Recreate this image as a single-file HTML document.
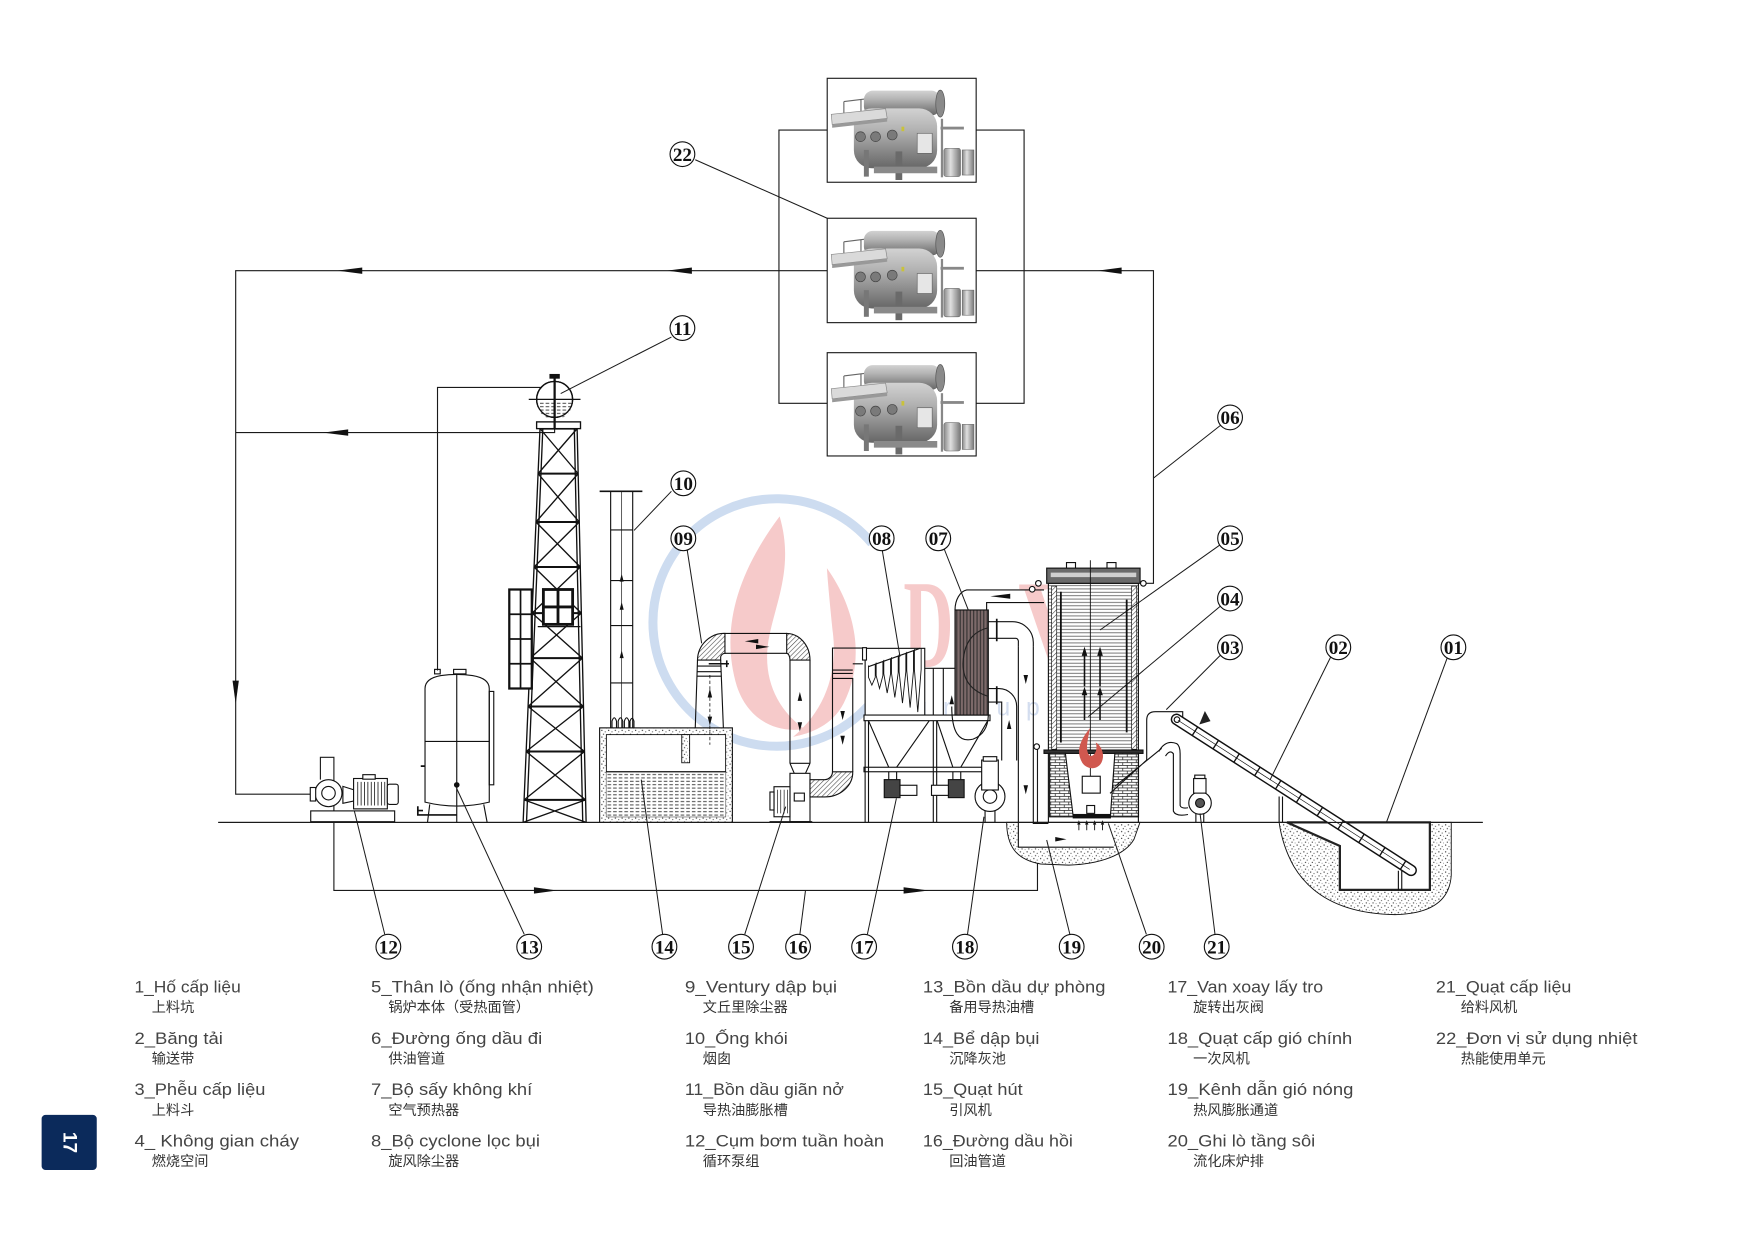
<!DOCTYPE html>
<html><head><meta charset="utf-8">
<style>
html,body{margin:0;padding:0;background:#fff;}
svg{display:block;}
.v{font-family:"Liberation Sans","Noto Sans CJK SC",sans-serif;font-size:14.5px;fill:#444;}
.c{font-family:"Liberation Sans","Noto Sans CJK SC","WenQuanYi Zen Hei",sans-serif;font-size:12.6px;fill:#333;}
.n{font-family:"Liberation Serif",serif;font-weight:bold;font-size:17px;fill:#111;text-anchor:middle;}
</style></head><body>
<svg width="1755" height="1241" viewBox="0 0 1560 1103.11" xmlns="http://www.w3.org/2000/svg">
<defs>
<pattern id="hl" width="10" height="3" patternUnits="userSpaceOnUse"><rect width="10" height="3" fill="#fff"/><line x1="0" y1="1.5" x2="10" y2="1.5" stroke="#555" stroke-width="0.7"/></pattern>
<pattern id="vl" width="3" height="10" patternUnits="userSpaceOnUse"><rect width="3" height="10" fill="#7d6a6a"/><line x1="1.5" y1="0" x2="1.5" y2="10" stroke="#2a2a2a" stroke-width="0.9"/></pattern>
<pattern id="sp" width="6" height="6" patternUnits="userSpaceOnUse"><rect width="6" height="6" fill="#fff"/><circle cx="1" cy="1.2" r=".6" fill="#333"/><circle cx="4" cy="2.5" r=".5" fill="#444"/><circle cx="2.5" cy="4.6" r=".55" fill="#333"/><circle cx="5.2" cy="5.3" r=".4" fill="#555"/></pattern>
<pattern id="wt" width="5" height="3" patternUnits="userSpaceOnUse"><rect width="5" height="3" fill="#fff"/><line x1="0" y1="1.5" x2="3.2" y2="1.5" stroke="#333" stroke-width="0.8"/></pattern>
<pattern id="hx" width="3" height="3" patternUnits="userSpaceOnUse" patternTransform="rotate(45)"><rect width="3" height="3" fill="#fff"/><line x1="0" y1="0" x2="0" y2="3" stroke="#444" stroke-width="1"/></pattern>
<pattern id="br" width="8" height="5" patternUnits="userSpaceOnUse"><rect width="8" height="5" fill="#fff"/><path d="M0,.4H8M0,2.9H8M2,.4V2.9M6,2.9V5" stroke="#333" stroke-width=".7"/></pattern>
<linearGradient id="gd" x1="0" y1="0" x2="0" y2="1"><stop offset="0" stop-color="#d2d2d2"/><stop offset=".35" stop-color="#b3b3b3"/><stop offset="1" stop-color="#666"/></linearGradient>
<linearGradient id="gh" x1="0" y1="0" x2="1" y2="0"><stop offset="0" stop-color="#888"/><stop offset=".4" stop-color="#e0e0e0"/><stop offset="1" stop-color="#777"/></linearGradient>
<g id="m">
<path d="M14.8,20.7 L50.4,16.3 M14.8,20.7 V33 M30,18.8 V31 M50.4,16.3 V29" stroke="#666" stroke-width="1" fill="none"/>
<rect x="32.6" y="11" width="68" height="22" rx="8" fill="url(#gd)"/>
<ellipse cx="100.5" cy="22.5" rx="4" ry="12" fill="#8a8a8a" stroke="#555" stroke-width=".6"/>
<rect x="23.7" y="26.7" width="74" height="53.3" rx="16" fill="url(#gd)"/>
<polygon points="3.6,32 51.9,27 53.3,35.6 4.4,41" fill="#dadada" stroke="#888" stroke-width=".6"/>
<polygon points="4.4,41 53.3,35.6 53.3,38.5 4.4,44" fill="#999"/>
<circle cx="29.6" cy="51.9" r="4.4" fill="#7a7a7a" stroke="#444" stroke-width=".6"/>
<circle cx="43" cy="51.9" r="4.4" fill="#7a7a7a" stroke="#444" stroke-width=".6"/>
<circle cx="57.8" cy="50.4" r="4.4" fill="#7a7a7a" stroke="#444" stroke-width=".6"/>
<rect x="80" y="48.9" width="13.3" height="17.8" fill="#e6e6e6" stroke="#666" stroke-width=".6"/>
<rect x="32.6" y="63.7" width="4.4" height="23.7" fill="#777"/>
<rect x="60.7" y="65" width="6" height="25.4" fill="#6a6a6a"/>
<rect x="41.5" y="78.5" width="56.3" height="5.9" fill="#8a8a8a"/>
<rect x="100.7" y="43" width="20.8" height="2.5" fill="#888"/>
<rect x="101" y="36" width="2" height="52" fill="#888"/>
<rect x="103.7" y="62.2" width="14.8" height="25.2" rx="2" fill="url(#gh)" stroke="#666" stroke-width=".5"/>
<rect x="120" y="63.7" width="10.4" height="22.3" fill="url(#gh)" stroke="#666" stroke-width=".5"/>
<rect x="66" y="43" width="2.5" height="4" fill="#c9c23a"/>
</g>
</defs>

<!-- watermark -->
<g>
<path d="M775,483 A110,110 0 1 0 790,600" fill="none" stroke="#cddcf0" stroke-width="8"/>
<path d="M693,459 C655,510 640,560 655,610 C665,640 690,652 715,648 C690,630 675,600 685,560 C692,530 705,500 693,459 Z" fill="#f6caca"/>
<path d="M735,505 C760,540 770,585 750,625 C740,645 720,652 705,655 C735,630 745,595 740,560 C738,540 736,520 735,505 Z" fill="#f6caca"/>
<text transform="translate(803,593) scale(0.55,1)" font-family="Liberation Serif" font-weight="bold" font-size="112" fill="#f6caca">D</text>
<text transform="translate(905,593) scale(0.8,1)" font-family="Liberation Serif" font-weight="bold" font-size="112" fill="#f6caca">V</text>
<text x="812" y="636" font-family="Liberation Sans" font-size="22" fill="#d3ddef" letter-spacing="14">group</text>
</g>

<g fill="none" stroke="#1a1a1a" stroke-width="1">
<!-- top machines -->
<rect x="735.3" y="69.6" width="132.4" height="92.4" fill="#fff"/>
<rect x="735.3" y="194" width="132.4" height="92.8" fill="#fff"/>
<rect x="735.3" y="313.5" width="132.4" height="91.8" fill="#fff"/>
</g>
<use href="#m" x="735.3" y="69.6"/>
<use href="#m" x="735.3" y="194.2"/>
<use href="#m" x="735.3" y="313.5"/>

<g fill="none" stroke="#1a1a1a" stroke-width="1">
<path d="M735.3,115.6H692.4V358.5H735.3 M867.7,115.6H910.3V358.5H867.7"/>
<path d="M735.3,240.6H209.5V705.9H276"/>
<path d="M867.7,240.6H1025.3V518.5H1016.3"/>
<path d="M493,371V384.5H209.5"/>
<path d="M481,344.4H388.9V596"/>
<path d="M284.8,693V673.2H296.8V791.5H922.2V663.7"/>
<path d="M194,731H1318"/>
</g>
<g fill="#111">
<polygon points="300,240.6 322,237.8 322,243.4"/>
<polygon points="593,240.6 615,237.8 615,243.4"/>
<polygon points="976,240.6 997,237.8 997,243.4"/>
<polygon points="287.3,384.5 309.5,381.7 309.5,387.3"/>
<polygon points="209.5,625.8 206.7,605 212.3,605"/>
<polygon points="495,791.5 474.6,788.7 474.6,794.3"/>
<polygon points="825.4,791.5 803.2,788.7 803.2,794.3"/>
</g>

<!-- tower -->
<g stroke="#111" fill="none" stroke-width="1.2">
<path d="M465,731 L480,381 M468,731 L482.5,381 M521,731 L513,381 M518,731 L510.5,381"/>
<path stroke-width="1.8" d="M480,381H513 M478.3,421H513.9 M476.4,464H514.9 M474.7,504H515.8 M473,545H516.7 M471.3,585H517.7 M469.4,628H518.6 M467.7,668H519.6 M465.9,711H520.5"/>
<path d="M480,381 L513.9,421 M513,381 L478.3,421 M478.3,421 L514.9,464 M513.9,421 L476.4,464 M476.4,464 L515.8,504 M514.9,464 L474.7,504 M474.7,504 L516.7,545 M515.8,504 L473,545 M473,545 L517.7,585 M516.7,545 L471.3,585 M471.3,585 L518.6,628 M517.7,585 L469.4,628 M469.4,628 L519.6,668 M518.6,628 L467.7,668 M467.7,668 L520.5,711 M519.6,668 L465.9,711 M465.9,711 L521,731 M520.5,711 L465,731"/>
<rect x="477" y="375" width="39" height="6" fill="#fff"/>
<circle cx="493" cy="355" r="16" fill="#fff"/>
<path d="M477,357 A16,16 0 0 0 509,357 Z" fill="url(#wt)" stroke="none"/>
<circle cx="493" cy="355" r="16"/>
<path d="M470,355H516"/>
<path d="M493,333V381" stroke-width="2"/>
<rect x="489" y="333" width="8" height="3" fill="#111"/>
<rect x="452.7" y="524" width="20" height="88" fill="#fff" stroke-width="2"/>
<path d="M462.7,524V612 M452.7,546H472.7 M452.7,568H472.7 M452.7,590H472.7" stroke-width="1.5"/>
<rect x="483" y="524" width="26" height="31" fill="#fff" stroke-width="2.5"/>
<path d="M496,524V555 M483,539.5H509" stroke-width="2.5"/>
<path d="M478,557H516"/>
</g>

<!-- tank 13 -->
<g stroke="#111" fill="none" stroke-width="1">
<path d="M377.8,713 V612 Q377.8,603 392,600.5 Q406,598.5 420,600.5 Q434.9,603 434.9,612 V713 Q406,720 377.8,713 Z" fill="#fff"/>
<path d="M377.8,659H434.9 M406,599V717"/>
<rect x="434.9" y="614.6" width="4" height="83"/>
<path d="M382,715 L380,731 M430,715 L433,731 M406,717V731"/>
<rect x="386.3" y="595" width="5" height="4"/>
<rect x="403.2" y="595" width="11" height="4"/>
<path d="M371.4,716.7V724.4H406 M371.4,720.5H376 M374,681H378" stroke-width="1.5"/>
<circle cx="406" cy="697.7" r="2" fill="#111"/>
</g>

<!-- pump 12 -->
<g stroke="#111" fill="#fff" stroke-width="1">
<rect x="276.2" y="720.8" width="74.6" height="9.6"/>
<circle cx="292" cy="705" r="12"/>
<circle cx="292" cy="705" r="6"/>
<rect x="275.8" y="700" width="4.8" height="12"/>
<polygon points="304.8,699 314.3,702 314.3,712 304.8,714"/>
<rect x="314.3" y="692" width="30" height="27"/>
<path d="M318,695V716 M321,695V716 M324,695V716 M327,695V716 M330,695V716 M333,695V716 M336,695V716 M339,695V716 M342,695V716" fill="none" stroke-width=".7"/>
<rect x="344.3" y="697" width="9.7" height="18" rx="2"/>
<rect x="322.5" y="688.6" width="11" height="4"/>
</g>

<!-- chimney 10 -->
<g stroke="#111" fill="none" stroke-width="1">
<path d="M542.8,436.7V647 M562.4,436.7V647"/>
<path d="M552.6,436.7V647" stroke-width=".6"/>
<path d="M533,436.7H571" stroke-width="1.5"/>
<path d="M542.8,471H562.4 M542.8,516H562.4 M542.8,556H562.4 M542.8,607H562.4"/>
<path d="M544,647V641 Q546,635 548,641V647 M549.5,647V641 Q551.5,635 553.5,641V647 M555,647V641 Q557,635 559,641V647 M560,647V641 Q562,636 563.5,641V647"/>
</g>
<g fill="#111"><polygon points="552.6,510 550.8,517 554.4,517"/><polygon points="552.6,535 550.8,542 554.4,542"/><polygon points="552.6,578 550.8,585 554.4,585"/></g>

<!-- tank 14 -->
<g stroke="#111" stroke-width="1">
<rect x="533" y="647" width="118" height="84" fill="url(#sp)"/>
<rect x="539" y="653" width="106" height="73" fill="#fff" stroke-width=".8"/>
<rect x="539" y="686" width="106" height="40" fill="url(#wt)" stroke="none"/>
<path d="M539,686H645" stroke-width="1.2"/>
<rect x="606" y="653" width="7" height="25" fill="url(#sp)" stroke-width=".8"/>
</g>

<!-- venturi 09, fan 15 -->
<g stroke="#111" fill="none" stroke-width="1">
<path d="M620,586.7 L618,647 M640.6,586.7 L643,647"/>
<path d="M620,592H641 M620,597H641 M620,601H641"/>
<path d="M630,590H648 M646,587V593" stroke-width="1.4"/>
<path d="M631,600V662" stroke-dasharray="3 2" stroke-width=".7"/>
<path d="M620,586.7 A24,24 0 0 1 644.4,563 L644.4,580.7 A4,4 0 0 0 640.6,584 L640.6,586.7 Z" fill="url(#hx)"/>
<path d="M644.4,563H699.3 M644.4,580.7H699.3"/>
<path d="M699.3,563 A21,24 0 0 1 720,586.7 L702.2,586.7 A3,6 0 0 0 699.3,580.7 Z" fill="url(#hx)"/>
<path d="M702.2,586.7V678.5 M720,586.7V678.5"/>
<path d="M702.2,678.5 L706,687.4 M720,678.5 L716,687.4 M702.2,678.5H720"/>
<rect x="702.2" y="687.4" width="17.8" height="43" fill="#fff"/>
<rect x="706" y="705" width="9" height="7"/>
<rect x="688" y="699.3" width="14.2" height="26.7" fill="#fff"/>
<path d="M691,702V723 M694,702V723 M697,702V723 M700,702V723" stroke-width=".6"/>
<rect x="684.4" y="704" width="3.6" height="16" fill="#fff"/>
<path d="M684,730.4H722"/>
<path d="M720,708.4 L733,708.4 A25,22 0 0 0 758,686 L740,686 A7,7 0 0 1 733,693 L720,693 Z" fill="url(#hx)"/>
<path d="M740,686V576 H770 M758,686V603 H740 M758,590H767 M740,595.6H758 M740,598.6H758"/>
</g>
<g fill="#111">
<polygon points="662,570 674,568 674,572"/><polygon points="684,575 672,573 672,577"/>
<polygon points="711,615 709,623 713,623"/><polygon points="711,650 709,642 713,642"/>
<polygon points="749,640 747,632 751,632"/><polygon points="749,662 747,654 751,654"/>
<polygon points="631,612 629,620 633,620"/><polygon points="631,645 629,637 633,637"/>
</g>

<!-- cyclone 08 -->
<g stroke="#111" fill="none" stroke-width="1">
<rect x="769" y="576.3" width="53" height="61" fill="#fff"/>
<rect x="766.7" y="575.7" width="3.5" height="11" fill="#fff"/>
<path d="M771.9,592.6 L817.8,576.3"/>
<path stroke-width=".8" d="M772,591.5V602 L775,609 L778,602 V590.5 M778.8,589V600.5 L781.8,612 L784.8,600.5 V588 M785.6,586.6V599 L788.6,616 L791.6,599 V585.5 M792.4,584.2V598 L795.4,620 L798.4,598 V583 M799.2,581.8V597 L802.2,625 L805.2,597 V580.6 M806,579.4V596 L809,629 L812,596 V578.3 M812.8,577V595 L815.8,633 L818.8,595 V576.3"/>
<rect x="768" y="635.6" width="112" height="5" fill="#fff"/>
<path d="M772,640.6 L790,682 M826,640.6 L797,682 M833,640.6 L847,682 M878,640.6 L854,682"/>
<rect x="768" y="682" width="112" height="4" fill="#fff"/>
<path d="M769,640.6V731 M772,640.6V731 M829.6,640.6V731 M832.6,640.6V731"/>
<path d="M790,686V693 M797,686V693 M847,686V693 M854,686V693"/>
<rect x="786" y="693" width="14" height="16" fill="#444"/>
<rect x="800" y="698" width="15" height="9" fill="#fff"/>
<rect x="843" y="693" width="14" height="16" fill="#444"/>
<rect x="828" y="698" width="15" height="9" fill="#fff"/>
<path d="M822,594H848.9 M829.6,594V635.6 M838.5,594V635.6"/>
</g>
<polygon points="846,618 844,626 848,626" fill="#111"/>

<!-- preheater 07 + ducts -->
<g stroke="#111" fill="none" stroke-width="1">
<rect x="848.9" y="542.2" width="29.6" height="93.4" fill="url(#vl)"/>
<path d="M848.9,542.2 A12,18 0 0 1 859.3,524.4 H928 M877,542.2 V535.6 H928"/>
<circle cx="917.5" cy="523.8" r="2.5" fill="#fff"/>
<circle cx="923" cy="518.5" r="2.5" fill="#fff"/>
<path d="M846,628 Q846,662 865,657 Q878,652 878.5,636"/>
<path d="M878.5,558 Q857,563 856,590 Q856,612 878.5,619" stroke="#222"/>
<path d="M878.5,552.6 H900 A18.5,18.5 0 0 1 918.5,571 V575 M878.5,567.4 H903 A2.2,3 0 0 1 905.2,571 V575"/>
<path d="M886,550V570 M886,610V626" stroke-width="1.5"/>
<path d="M878.5,612 H888 A15.7,16 0 0 1 903.7,628 V676 M878.5,624 H890.4 V676"/>
</g>
<polygon points="880.3,530 898,527.8 898,532.2" fill="#111"/>
<polygon points="897,640 895,648 899,648" fill="#111"/>

<!-- pit under boiler + duct 19 -->
<path d="M894.8,731 C895,752 903,764 925,768 L950,769 C978,768 1000,760 1008,746 L1013.3,731 Z" fill="url(#sp)" stroke="#111" stroke-width=".8"/>
<rect x="905.2" y="731" width="84.8" height="22" fill="#fff"/>
<g stroke="#111" fill="none" stroke-width="1">
<path d="M905.2,575 V753 H990 M918.5,575 V731.9 H931.9"/>
</g>
<g fill="#111">
<polygon points="911.8,608 909.8,600 913.8,600"/>
<polygon points="911.8,706 909.8,698 913.8,698"/>
<polygon points="948,746 938,744 938,748"/>
</g>

<!-- fan 18 -->
<g stroke="#111" fill="#fff" stroke-width="1">
<rect x="875.6" y="718.5" width="8.8" height="12.5"/>
<circle cx="880" cy="708" r="13.3"/>
<circle cx="880" cy="708" r="6"/>
<rect x="872.6" y="675.6" width="14.8" height="26.6"/>
<rect x="874" y="672.6" width="12" height="4"/>
</g>

<!-- boiler -->
<g stroke="#111" stroke-width="1">
<rect x="931.9" y="518.5" width="80" height="149.5" fill="url(#hl)"/>
<rect x="934.8" y="521" width="4.5" height="145" fill="url(#hx)" stroke-width=".6"/>
<rect x="1005.9" y="521" width="4.5" height="145" fill="url(#hx)" stroke-width=".6"/>
<path d="M1001.5,533V651 M943,526V660" stroke-width="1.6" fill="none"/>
<rect x="930.4" y="505" width="83" height="13.5" fill="#6a6a6a"/>
<rect x="934" y="509" width="76" height="4" fill="#cfcfcf" stroke="none"/>
<path d="M948,505 V500 H956 V505 M984,505 V500 H992 V505" fill="none"/>
<path d="M969.2,498V700" fill="none" stroke-width=".8"/>
<rect x="928" y="666.7" width="88" height="3" fill="#333"/>
<polygon points="933,669.6 947,669.6 954,726 933,726" fill="url(#br)"/>
<polygon points="991,669.6 1012,669.6 1012,726 987,726" fill="url(#br)"/>
<rect x="962" y="690" width="16" height="15" fill="#fff"/>
<rect x="966" y="716" width="7" height="7" fill="#fff"/>
<rect x="954" y="724" width="33" height="3" fill="#111"/>
<path d="M931.9,669.6V731 M1011.9,669.6V731" fill="none"/>
</g>
<g fill="#111">
<rect x="963.3" y="582" width="1.4" height="28"/><polygon points="964,574.8 961.5,583 966.5,583"/>
<rect x="977.1" y="582" width="1.4" height="28"/><polygon points="977.8,574.8 975.3,583 980.3,583"/>
<rect x="963.3" y="617" width="1.4" height="23"/><polygon points="964,610.4 961.5,618 966.5,618"/>
<rect x="977.1" y="617" width="1.4" height="23"/><polygon points="977.8,610.4 975.3,618 980.3,618"/>
<polygon points="959,729 957.5,733 960.5,733"/><rect x="958.6" y="733" width=".8" height="5"/>
<polygon points="966,729 964.5,733 967.5,733"/><rect x="965.6" y="733" width=".8" height="5"/>
<polygon points="973,729 971.5,733 974.5,733"/><rect x="972.6" y="733" width=".8" height="5"/>
<polygon points="980,729 978.5,733 981.5,733"/><rect x="979.6" y="733" width=".8" height="5"/>
</g>
<path d="M969,647 C960,658 956,668 962,678 C966,684 975,685 979,678 C983,670 978,662 974,660 C976,667 973,672 969,672 C964,668 967,657 969,647 Z" fill="#d0584f"/>
<circle cx="921.5" cy="663.7" r="2.5" fill="#fff" stroke="#111"/>
<circle cx="1016.3" cy="518.5" r="2.5" fill="#fff" stroke="#111"/>

<!-- feeder: hopper 03, fan 21 -->
<g stroke="#111" fill="none" stroke-width="1">
<path d="M1019.3,675.6 V640 Q1019.3,632.6 1027,632.6 H1051.3 V641.5" fill="#fff"/>
<path d="M1019.3,675.6 L986.7,705.2 M1032.6,665.2 L991,699"/>
<path d="M1030,668 Q1036,657 1046,661 Q1049,663 1049,670 V716 Q1050,719 1056,718 M1036,672 Q1040,666 1043,670 V721 Q1045,726 1056,724"/>
<path d="M1063,721V731 M1070,721V731"/>
<circle cx="1066.7" cy="713.8" r="10" fill="#fff"/>
<circle cx="1066.7" cy="713.8" r="4" fill="#555"/>
<rect x="1061" y="692" width="11" height="13" fill="#fff"/>
<rect x="1062" y="689" width="9" height="3" fill="#fff"/>
</g>

<!-- pit 01 -->
<path d="M1137,731 L1290,731 L1290,778 Q1288,812 1240,813 Q1175,812 1150,770 Q1140,752 1137,731 Z" fill="url(#sp)" stroke="#111" stroke-width=".8"/>
<polygon points="1144,731 1191,752 1191,791 1271,791 1271,731" fill="#fff" stroke="#222" stroke-width="2"/>
<path d="M1137,708V731 M1140,708V731 M1243,774V791 M1246,774V791" stroke="#111" stroke-width="1"/>

<!-- conveyor 02 -->
<g transform="translate(1042,637) rotate(32.76)">
<rect x="0" y="-4.5" width="257" height="9" rx="4.5" fill="#fff" stroke="#111" stroke-width="1.3"/>
<path d="M6,0H251" stroke="#111" stroke-width=".6"/>
<path d="M24,-4.5V4.5 M46,-4.5V4.5 M68,-4.5V4.5 M90,-4.5V4.5 M112,-4.5V4.5 M134,-4.5V4.5 M156,-4.5V4.5 M178,-4.5V4.5 M200,-4.5V4.5 M222,-4.5V4.5 M244,-4.5V4.5" stroke="#111" stroke-width="1.2"/>
<circle cx="5" cy="0" r="2.5" fill="none" stroke="#111"/>
</g>
<polygon points="1066,644 1071,632 1076,641" fill="#222"/>

<path d="M194,731H1318" stroke="#1a1a1a" stroke-width="1" fill="none"/>

<!-- leaders -->
<g stroke="#1a1a1a" stroke-width=".9" fill="none">
<path d="M618,142 L735.3,194"/>
<path d="M596.8,299.6 L498.4,349.8"/>
<path d="M596.8,436.7 L563.6,471.5"/>
<path d="M610.4,486 L623.7,571.8"/>
<path d="M783.7,486 L800,583.7"/>
<path d="M838.5,486 L860.7,542.2"/>
<path d="M1085,378 L1025.3,425"/>
<path d="M1084.4,484.4 L977.8,560"/>
<path d="M1086,537.8 L967.4,637"/>
<path d="M1086,581.2 L1036.7,630.8"/>
<path d="M1183.7,582.2 L1128.9,693.3"/>
<path d="M1287.4,582.2 L1232.6,730.4"/>
<path d="M342,830.5 L315,721"/>
<path d="M466,830.5 L406,701"/>
<path d="M589,830.5 L570,693"/>
<path d="M662,830.5 L698.4,717"/>
<path d="M711,830.5 L716,791.5"/>
<path d="M771,830.5 L796.8,709.6"/>
<path d="M860,830.5 L874.6,726"/>
<path d="M951,830.5 L930.4,746.7"/>
<path d="M1019,830.5 L985.2,731.9"/>
<path d="M1080,830.5 L1066.7,723"/>
</g>

<!-- label circles -->
<g stroke="#111" stroke-width="1" fill="#fff">
<circle cx="606.6" cy="137" r="11"/>
<circle cx="606.6" cy="291.6" r="11"/>
<circle cx="607.4" cy="429.6" r="11"/>
<circle cx="607.4" cy="478.5" r="11"/>
<circle cx="783.7" cy="478.5" r="11"/>
<circle cx="834" cy="478.5" r="11"/>
<circle cx="1093.4" cy="371" r="11"/>
<circle cx="1093.4" cy="478.5" r="11"/>
<circle cx="1093.3" cy="532" r="11"/>
<circle cx="1093.3" cy="575.4" r="11"/>
<circle cx="1189.6" cy="575.4" r="11"/>
<circle cx="1291.9" cy="575.4" r="11"/>
<circle cx="345.2" cy="841.5" r="11"/>
<circle cx="470.4" cy="841.5" r="11"/>
<circle cx="590.6" cy="841.5" r="11"/>
<circle cx="658.7" cy="841.5" r="11"/>
<circle cx="709.4" cy="841.5" r="11"/>
<circle cx="768.1" cy="841.5" r="11"/>
<circle cx="857.7" cy="841.5" r="11"/>
<circle cx="952.6" cy="841.5" r="11"/>
<circle cx="1023.7" cy="841.5" r="11"/>
<circle cx="1081.5" cy="841.5" r="11"/>
</g>
<g class="n">
<text x="606.6" y="143">22</text>
<text x="606.6" y="297.6">11</text>
<text x="607.4" y="435.6">10</text>
<text x="607.4" y="484.5">09</text>
<text x="783.7" y="484.5">08</text>
<text x="834" y="484.5">07</text>
<text x="1093.4" y="377">06</text>
<text x="1093.4" y="484.5">05</text>
<text x="1093.3" y="538">04</text>
<text x="1093.3" y="581.4">03</text>
<text x="1189.6" y="581.4">02</text>
<text x="1291.9" y="581.4">01</text>
<text x="345.2" y="847.5">12</text>
<text x="470.4" y="847.5">13</text>
<text x="590.6" y="847.5">14</text>
<text x="658.7" y="847.5">15</text>
<text x="709.4" y="847.5">16</text>
<text x="768.1" y="847.5">17</text>
<text x="857.7" y="847.5">18</text>
<text x="952.6" y="847.5">19</text>
<text x="1023.7" y="847.5">20</text>
<text x="1081.5" y="847.5">21</text>
</g>

<!-- legend -->
<g class="v">
<text x="119.5" y="882" textLength="94.5" lengthAdjust="spacingAndGlyphs">1_Hố cấp liệu</text>
<text x="119.5" y="928" textLength="78.6" lengthAdjust="spacingAndGlyphs">2_Băng tải</text>
<text x="119.5" y="973.3" textLength="116.4" lengthAdjust="spacingAndGlyphs">3_Phễu cấp liệu</text>
<text x="119.5" y="1019" textLength="146.3" lengthAdjust="spacingAndGlyphs">4_ Không gian cháy</text>
<text x="329.8" y="882" textLength="198" lengthAdjust="spacingAndGlyphs">5_Thân lò (ống nhận nhiệt)</text>
<text x="329.8" y="928" textLength="152.2" lengthAdjust="spacingAndGlyphs">6_Đường ống dầu đi</text>
<text x="329.8" y="973.3" textLength="143.3" lengthAdjust="spacingAndGlyphs">7_Bộ sấy không khí</text>
<text x="329.8" y="1019" textLength="150.2" lengthAdjust="spacingAndGlyphs">8_Bộ cyclone lọc bụi</text>
<text x="608.8" y="882" textLength="135.3" lengthAdjust="spacingAndGlyphs">9_Ventury dập bụi</text>
<text x="608.8" y="928" textLength="91.5" lengthAdjust="spacingAndGlyphs">10_Ống khói</text>
<text x="608.8" y="973.3" textLength="141.3" lengthAdjust="spacingAndGlyphs">11_Bồn dầu giãn nở</text>
<text x="608.8" y="1019" textLength="177.1" lengthAdjust="spacingAndGlyphs">12_Cụm bơm tuần hoàn</text>
<text x="820.4" y="882" textLength="162.2" lengthAdjust="spacingAndGlyphs">13_Bồn dầu dự phòng</text>
<text x="820.4" y="928" textLength="103.5" lengthAdjust="spacingAndGlyphs">14_Bể dập bụi</text>
<text x="820.4" y="973.3" textLength="88.6" lengthAdjust="spacingAndGlyphs">15_Quạt hút</text>
<text x="820.4" y="1019" textLength="133.3" lengthAdjust="spacingAndGlyphs">16_Đường dầu hồi</text>
<text x="1037.8" y="882" textLength="138.3" lengthAdjust="spacingAndGlyphs">17_Van xoay lấy tro</text>
<text x="1037.8" y="928" textLength="164.2" lengthAdjust="spacingAndGlyphs">18_Quạt cấp gió chính</text>
<text x="1037.8" y="973.3" textLength="165.2" lengthAdjust="spacingAndGlyphs">19_Kênh dẫn gió nóng</text>
<text x="1037.8" y="1019" textLength="131.3" lengthAdjust="spacingAndGlyphs">20_Ghi lò tầng sôi</text>
<text x="1276.4" y="882" textLength="120.4" lengthAdjust="spacingAndGlyphs">21_Quạt cấp liệu</text>
<text x="1276.4" y="928" textLength="179.1" lengthAdjust="spacingAndGlyphs">22_Đơn vị sử dụng nhiệt</text>
</g>
<g class="c">
<text x="134.9" y="899.5">上料坑</text>
<text x="134.9" y="945.5">输送带</text>
<text x="134.9" y="991">上料斗</text>
<text x="134.9" y="1036.5">燃烧空间</text>
<text x="345.2" y="899.5">锅炉本体（受热面管）</text>
<text x="345.2" y="945.5">供油管道</text>
<text x="345.2" y="991">空气预热器</text>
<text x="345.2" y="1036.5">旋风除尘器</text>
<text x="624.7" y="899.5">文丘里除尘器</text>
<text x="624.7" y="945.5">烟囱</text>
<text x="624.7" y="991">导热油膨胀槽</text>
<text x="624.7" y="1036.5">循环泵组</text>
<text x="843.8" y="899.5">备用导热油槽</text>
<text x="843.8" y="945.5">沉降灰池</text>
<text x="843.8" y="991">引风机</text>
<text x="843.8" y="1036.5">回油管道</text>
<text x="1060.6" y="899.5">旋转出灰阀</text>
<text x="1060.6" y="945.5">一次风机</text>
<text x="1060.6" y="991">热风膨胀通道</text>
<text x="1060.6" y="1036.5">流化床炉排</text>
<text x="1298.4" y="899.5">给料风机</text>
<text x="1298.4" y="945.5">热能使用单元</text>
</g>

<!-- page number -->
<rect x="37" y="991" width="49" height="49" rx="3.5" fill="#0b2a5b"/>
<text transform="translate(61.5,1015.5) rotate(90)" text-anchor="middle" dominant-baseline="central" font-family="Liberation Sans" font-weight="bold" font-size="17" fill="#fff">17</text>
</svg>
</body></html>
